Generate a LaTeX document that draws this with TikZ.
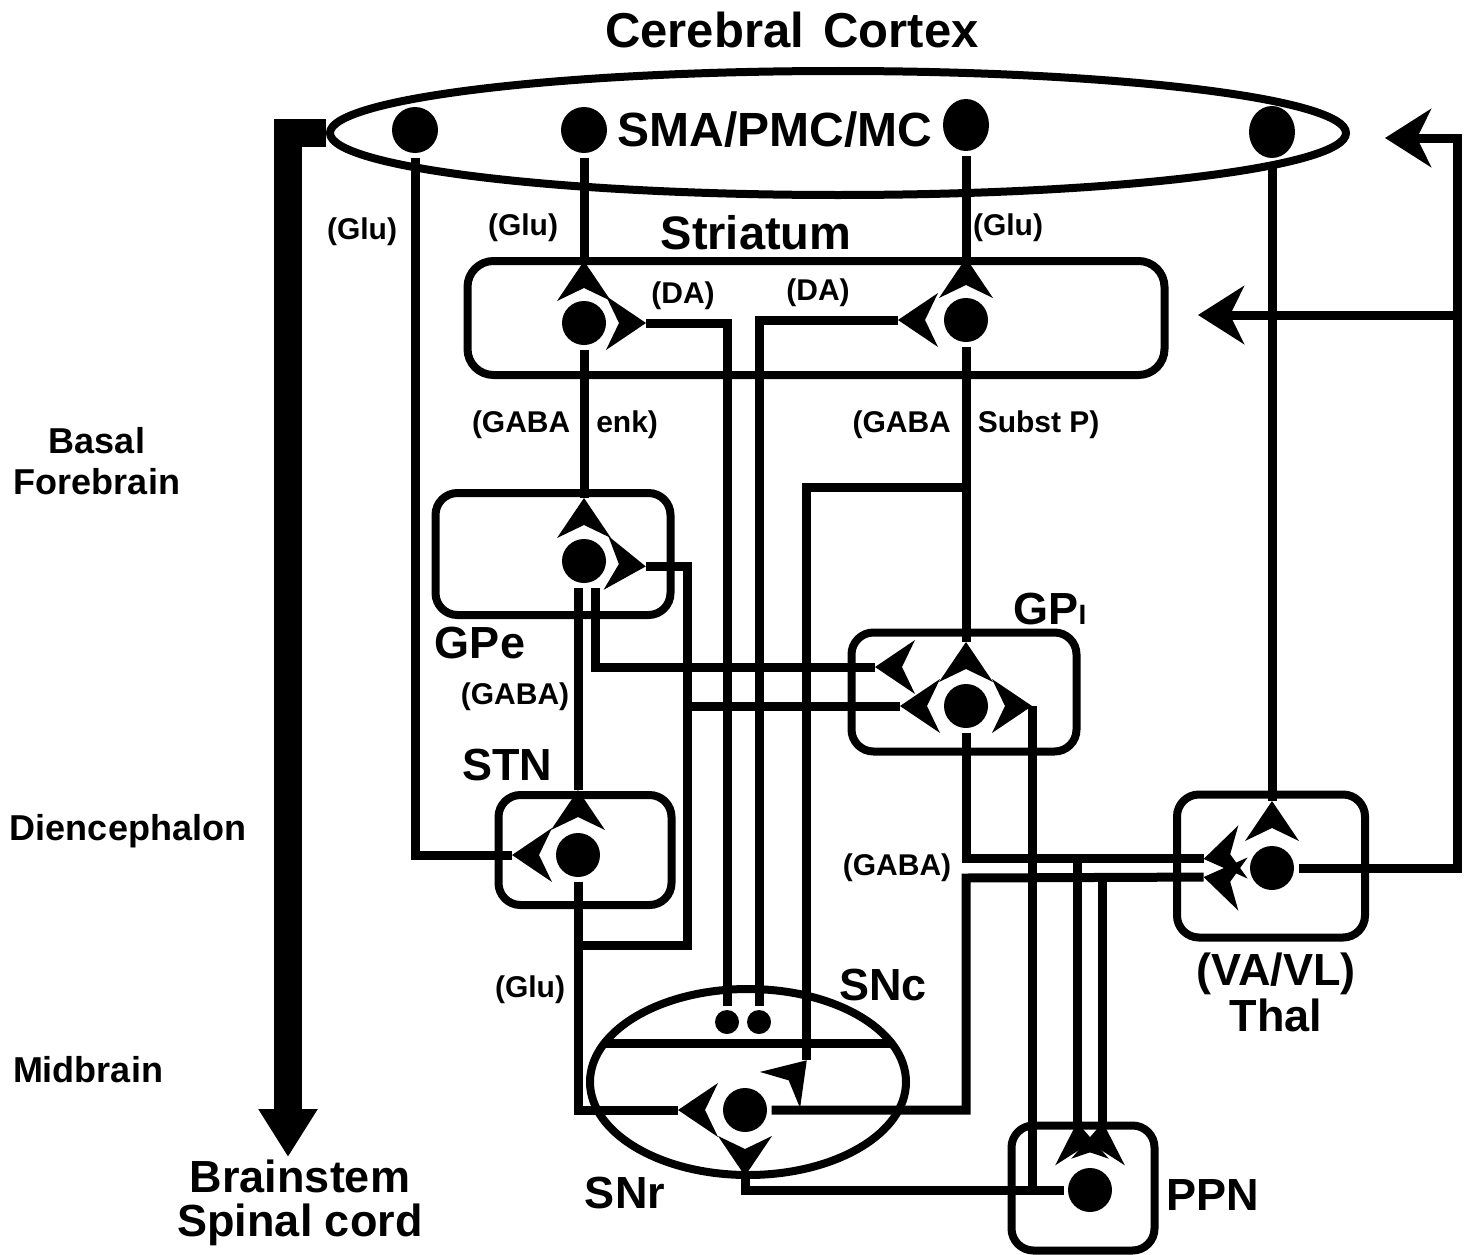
\documentclass[tikz,border=0pt]{standalone}
\usepackage{fontspec}
\setmainfont{Liberation Sans}
\usetikzlibrary{shapes.geometric}
\usetikzlibrary{arrows.meta, calc, positioning}

\begin{document}
\begin{tikzpicture}[x=1pt, y=-1pt, line width=9pt,
    soma/.style={circle, fill, inner sep=0pt, minimum size=44pt},
    ctxsoma/.style={ellipse, fill, inner sep=0pt, minimum width=46pt, minimum height=48pt},
    term/.style={circle, fill, inner sep=0pt, minimum size=24pt},
    region/.style={draw, rounded corners=22pt, line width=8pt, inner sep=0pt},
    bigtxt/.style={font=\fontsize{45}{46}\selectfont\bfseries},
    smalltxt/.style={font=\fontsize{30}{31}\selectfont\bfseries},
    areatxt/.style={font=\fontsize{36}{41}\selectfont\bfseries, align=center},
    back/.style={-{Stealth[length=46pt, width=58pt, inset=14pt]}}]
\newcommand{\synap}[4]{%
  \coordinate (sb) at ($(#1)+(#2:#3)$);
  \fill ($(sb)+(#2+90:27)$) -- ($(sb)+(#2:40)$) -- ($(sb)+(#2-90:27)$) -- ($(sb)+(#2:13)$) -- cycle;
  \coordinate (#4) at ($(sb)+(#2:40)$);
}

\useasboundingbox (0,0) rectangle (1475,1255);

    % regions
    \node[ellipse, draw, line width=8pt, minimum width=1016pt, minimum height=124pt, inner sep=0pt] (ctx) at (838,133) {};
    \node[region, rounded corners=26pt, minimum width=697pt, minimum height=114pt] (strBox) at (816,318) {};
    \node[region, minimum width=235pt, minimum height=122pt] (gpeBox) at (553,554) {};
    \node[region, minimum width=225pt, minimum height=119pt] (gpiBox) at (964,692) {};
    \node[region, minimum width=173pt, minimum height=110pt] (stnBox) at (585,850) {};
    \node[region, minimum width=188pt, minimum height=143pt] (thalBox) at (1271,866) {};
    \node[region, minimum width=143pt, minimum height=125pt] (ppnBox) at (1083,1188) {};
    \node[ellipse, draw, line width=8pt, minimum width=316pt, minimum height=186pt, inner sep=0pt] (sn) at (748,1082) {};
    \draw ($(sn)+(-143,-39)$) -- ($(sn)+(143,-39)$);

    % cells
    \foreach \n/\x/\y/\h in {ctx1/415/130/46, ctx2/584/130/46, ctx3/966/125/52, ctx4/1272/132/52}
      \node[ctxsoma, minimum height=\h pt] (\n) at (\x,\y) {};
    \foreach \n/\x/\y in {str1/584/323, str2/966/320, gpe/584/561, gpi/966/706,
                          stn/578/855, thal/1272/868, snr/745/1110, ppn/1090/1190}
      \node[soma] (\n) at (\x,\y) {};
    \node[term] (snc1) at (727,1022) {};
    \node[term] (snc2) at (759,1022) {};

    % synapses
    \synap{str1}{-90}{22}{str1U}
    \synap{str1}{0}{22}{str1R}
    \synap{str2}{-90}{22}{str2U}
    \synap{str2}{180}{28}{str2L}
    \synap{gpe}{-90}{23}{gpeU}
    \synap{gpe}{5}{22}{gpeR}
    \synap{gpi}{-90}{24}{gpiU}
    \coordinate (gpiULb) at (915,667);
    \synap{gpiULb}{180}{0}{gpiUL}
    \synap{gpi}{180}{26}{gpiLL}
    \synap{gpi}{0}{26}{gpiR}
    \synap{stn}{-90}{25}{stnU}
    \synap{stn}{180}{26}{stnL}
    \synap{thal}{-90}{27}{thalU}
    \coordinate (thULb) at (1243,852);
    \coordinate (thLLb) at (1243,884);
    \synap{thULb}{170}{0}{thalUL}
    \synap{thLLb}{190}{0}{thalLL}
    \synap{snr}{180}{27}{snrL}
    \coordinate (snrURb) at (780,1090);
    \synap{snrURb}{-48}{0}{snrUR}
    \synap{snr}{90}{26}{snrD}
    \coordinate (ppnAb) at (1082,1162);
    \coordinate (ppnBb) at (1098,1162);
    \synap{ppnAb}{-97}{0}{ppnA}
    \synap{ppnBb}{-83}{0}{ppnB}

    % pathways
    \draw (ctx1) |- (stnL);
    \draw (ctx2) -- (str1U);
    \draw (ctx3) -- (str2U);
    \draw (ctx4) -- (thalU);
    \draw (str1R) -| (snc1);
    \draw (str2L) -| (snc2);
    \draw (str1) -- (gpeU);
    \draw (str2) -- (gpiU);
    \coordinate (spBr) at (966,487);
    \draw (spBr) -| (snrUR);
    \draw ($(gpe.south)+(-6,0)$) -- (stnU);
    \draw ($(gpe.south)+(11,0)$) |- (gpiUL);
    \coordinate (stnLoop) at (687,945);
    \coordinate (stnBr) at (687,706);
    \draw (stn) |- (stnLoop) |- (gpeR);
    \draw (stn) |- (snrL);
    \draw (stnBr) -- (gpiLL);
    \coordinate (gabaK) at (966,878);
    \draw (gpi) |- (thalUL);
    \draw (snr) -| (gabaK) -- (thalLL);
    \draw (ppnA |- thalUL) -- (ppnA);
    \draw (ppnB |- thalLL) -- (ppnB);
    \coordinate (ppnBr) at (1032,1190);
    \draw (ppn) -| (snrD);
    \draw (ppnBr) -- (gpiR);

    % thalamic return and descending output
    \coordinate (ctxR) at (1457,138);
    \coordinate (ctxIn) at (1385,138);
    \coordinate (strR) at (1457,315);
    \coordinate (strIn) at (1198,315);
    \draw[back] (thal) -| (ctxR) -- (ctxIn);
    \draw[back] (strR) -- (strIn);
    \coordinate (bsTip) at (288,1157);
    \draw[line width=28pt, -{Triangle[length=48pt, width=56pt]}] (ctx.west) -| (bsTip);

    % labels
    \node[font=\fontsize{49}{50}\selectfont\bfseries] (title) at (792,30) {Cerebral\hspace{0.4em}Cortex};
    \node[font=\fontsize{48}{49}\selectfont\bfseries] (smaLbl) at (775,130) {SMA/PMC/MC};
    \node[font=\fontsize{47}{48}\selectfont\bfseries] (strLbl) at (756,233) {Striatum};
    \node[smalltxt] (glu1) at (362,232) {(Glu)};
    \node[smalltxt] (glu2) at (523,228) {(Glu)};
    \node[smalltxt] (glu3) at (1008,228) {(Glu)};
    \node[smalltxt] (da1) at (683,296) {(DA)};
    \node[smalltxt] (da2) at (818,293) {(DA)};
    \node[smalltxt] (indLbl) at (565,425) {(GABA\hspace{26pt}enk)};
    \node[smalltxt] (dirLbl) at (976,425) {(GABA\hspace{27pt}Subst P)};
    \node[smalltxt] (gaba1) at (515,697) {(GABA)};
    \node[smalltxt] (gaba2) at (897,868) {(GABA)};
    \node[smalltxt] (glu4) at (530,990) {(Glu)};
    \node[bigtxt] (gpeLbl) at (480,643) {GPe};
    \node[bigtxt] (stnLbl) at (507,765) {STN};
    \node[bigtxt] (gpiLbl) at (1050,609) {GP{\fontsize{28}{28}\selectfont I}};
    \node[bigtxt] (sncLbl) at (883,985) {SNc};
    \node[bigtxt] (snrLbl) at (625,1193) {SNr};
    \node[bigtxt] (ppnLbl) at (1213,1195) {PPN};
    \node[bigtxt, align=center] (thalLbl) at (1276,992) {(VA/VL)\\Thal};
    \node[areatxt] (bfLbl) at (97,461) {Basal\\Forebrain};
    \node[areatxt] (dienLbl) at (128,831) {Diencephalon};
    \node[areatxt] (midLbl) at (88,1070) {Midbrain};
    \node[font=\fontsize{45}{44}\selectfont\bfseries, align=center] (bsLbl) at (300,1203) {Brainstem\\Spinal cord};
\end{tikzpicture}
\end{document}
